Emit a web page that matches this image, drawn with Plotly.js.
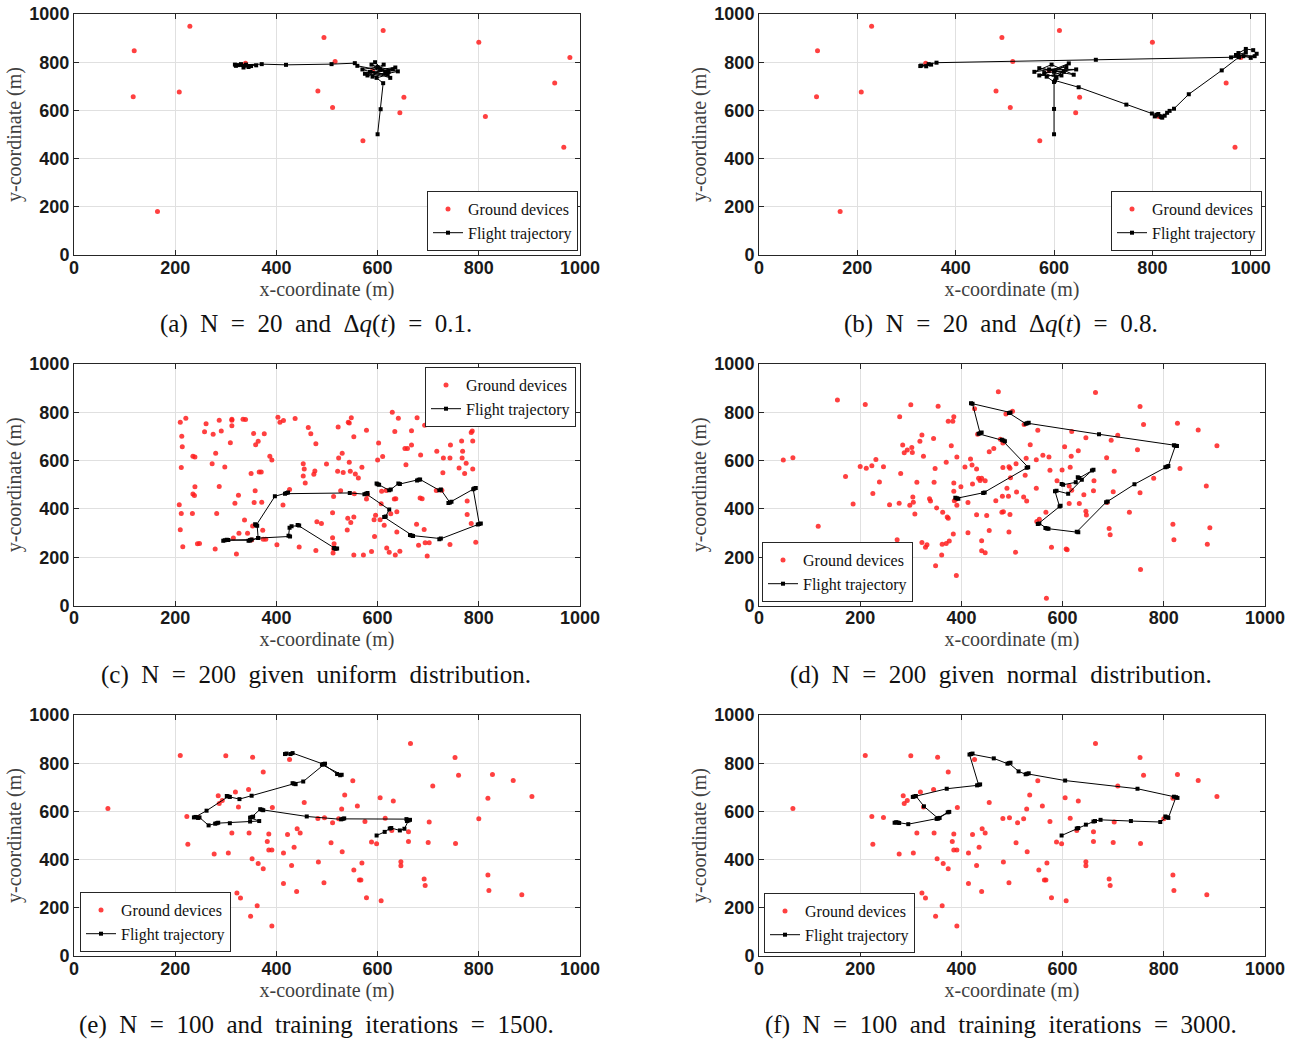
<!DOCTYPE html>
<html><head><meta charset="utf-8">
<script src="https://cdn.plot.ly/plotly-3.0.1.min.js"></script>
<style>body{margin:0;padding:0;background:#fff}#chart{width:1296px;height:1042px}</style>
</head><body><div id="chart"></div>
<script>
// ---------------- DATA ----------------
const tickVals = [0, 200, 400, 600, 800, 1000];
const tickText = ['0', '200', '400', '600', '800', '1000'];
const seriesNames = ['Ground devices', 'Flight trajectory'];
const xTitle = 'x-coordinate (m)';
const yTitle = 'y-coordinate (m)';
const captions = [
  '(a) N = 20 and Δ<i>q</i>(<i>t</i>) = 0.1.',
  '(b) N = 20 and Δ<i>q</i>(<i>t</i>) = 0.8.',
  '(c) N = 200 given uniform distribution.',
  '(d) N = 200 given normal distribution.',
  '(e) N = 100 and training iterations = 1500.',
  '(f) N = 100 and training iterations = 3000.'
];

// N = 20 ground devices (panels a, b)
const dev20X = [119,229,494,611,800,980,117,208,339,516,482,511,652,644,813,950,571,968,165,590];
const dev20Y = [848,949,902,932,883,819,657,676,796,803,681,612,655,590,575,714,474,447,181,765];

// N = 200 uniform ground devices (panel c)
const devUniX = [210,221,261,287,312,312,334,339,403,414,407,437,548,542,544,629,641,678,783,693,667,634,522,578,463,468,355,376,312,291,275,258,213,214,235,239,280,309,359,364,478,553,602,654,667,659,717,744,766,787,785,788,730,743,768,767,775,761,788,772,729,685,656,610,600,530,523,499,453,455,453,476,474,457,521,532,546,556,562,569,544,387,391,212,273,298,350,366,370,
  239,287,235,238,358,325,318,356,371,426,413,208,212,234,282,337,353,326,343,373,374,379,401,351,315,279,244,248,215,321,210,445,478,512,513,514,511,489,480,511,513,527,541,553,547,540,553,572,588,594,596,593,605,613,618,623,635,644,608,617,633,636,638,638,684,688,716,727,677,692,694,702,681,698,743,777,777,785,794,578,580,554,607,626];
const devUniY = [759,775,753,767,771,767,771,770,779,766,759,774,777,759,756,800,775,777,775,746,724,721,739,726,737,711,712,711,744,723,709,719,701,657,618,615,630,674,666,680,670,699,673,650,665,650,639,665,681,723,716,681,611,611,639,611,589,569,565,547,550,623,583,617,602,630,611,586,587,565,536,557,543,507,556,551,556,545,528,572,593,618,603,571,587,573,547,553,553,
  492,493,462,455,475,457,423,426,428,480,416,417,381,381,381,354,329,299,299,312,274,274,252,271,279,234,256,257,243,213,314,242,228,217,235,256,281,340,347,384,451,475,361,366,344,313,209,209,224,286,374,355,355,332,238,221,209,225,473,476,441,442,388,304,445,442,476,477,336,315,260,260,249,205,253,433,377,340,262,441,460,463,421,380];

// N = 200 normal ground devices (panel d)
const devNormX = [473,665,155,210,300,354,753,426,278,374,383,385,501,488,524,760,827,868,905,551,618,646,709,696,432,482,477,322,318,345,284,302,293,287,303,325,380,391,464,455,536,561,573,548,528,604,631,617,748,687,48,67,231,200,212,223,246,280,370,418,421,407,430,348,482,494,496,508,526,575,599,615,702,832,780,171,238,312,346,385,399,422,434,440,437,447,497,490,509,481,468,493,523,529,548,589,613,618,642,661,662,700,753,884,225,277,258,186,298,305,304,337,339,351,389,391,386,413,385,308,363,374,372,430,450,480,483,496,567,613,633,646,647,732,688,117,273,322,332,329,362,370,376,384,413,455,440,440,447,494,507,549,554,578,607,609,692,694,818,820,891,886,361,349,390,754,568];
const devNormY = [885,882,851,832,831,825,824,815,782,763,763,782,804,793,749,750,755,727,662,726,721,695,705,684,709,673,688,706,680,691,665,654,644,633,634,618,662,615,650,637,666,622,615,604,610,657,641,618,645,612,603,612,605,576,568,579,575,547,593,607,582,574,565,567,571,575,568,587,539,560,561,572,556,567,527,534,511,510,510,507,492,503,527,527,518,517,529,485,470,452,434,452,449,433,485,517,495,477,459,475,517,471,467,495,464,423,417,420,415,428,449,442,433,404,440,415,434,427,473,379,386,361,366,376,373,386,388,377,386,422,422,390,375,386,426,328,272,261,252,241,254,257,267,296,301,311,268,227,218,304,221,348,357,241,234,231,319,293,336,272,322,254,209,165,124,149,30];

// N = 100 ground devices (panels e, f)
const dev100X = [665,210,300,353,753,426,374,760,827,868,905,551,709,605,631,818,535,560,529,392,455,285,293,287,319,345,325,67,223,246,482,495,523,511,575,615,702,800,312,346,385,422,441,447,508,588,598,661,661,700,754,225,277,305,352,385,391,414,435,530,364,374,430,483,569,646,646,553,692,694,818,414,494,564,567,440,820,885,322,329,362,349,391,578,607,382,628];
const dev100Y = [882,832,831,825,824,815,763,750,753,728,662,727,705,657,643,655,668,622,610,616,637,665,645,633,681,691,618,612,579,575,571,574,569,553,558,572,556,569,510,510,506,504,528,510,470,473,466,516,475,471,467,464,423,427,404,440,440,427,451,433,384,362,376,390,386,391,375,357,319,293,336,301,304,315,315,268,272,254,261,241,209,165,124,242,229,475,521];

// Flight trajectories
const trajAX = [600,606,611,598,620,585,630,575,612,590,640,600,570,625,595,615,580,635,605,588,622,560,555,509,419,371,340,320,345,330,360,318,350,335,325];
const trajAY = [501,605,713,735,748,760,770,752,790,740,762,780,770,735,800,755,745,778,770,790,760,785,796,792,789,792,790,785,780,792,787,790,784,778,788];

const trajBX = [600,600,600,585,620,570,640,595,560,625,605,580,645,590,615,570,630,600,602,650,747,799,805,820,812,825,808,818,830,835,844,874,941,976,960,975,990,1005,1012,1000,985,1008,970,990,976,685,361,345,330,340,350,328];
const trajBY = [501,606,718,740,760,775,748,790,760,780,735,755,770,770,745,745,795,760,724,696,624,587,575,570,585,578,582,572,590,598,607,667,766,821,820,838,855,850,835,818,825,825,830,840,821,810,798,792,786,783,790,784];

const trajCX = [600,603,598,623,626,641,644,681,678,684,722,725,743,746,740,791,794,789,801,804,798,722,725,667,664,670,613,616,623,577,580,574,545,420,417,423,397,360,358,362,364,348,345,351,298,302,295,305,348,364,427,424,426,430,445,442,517,514,520];
const trajCY = [502,500,505,477,480,505,503,521,518,522,477,480,426,430,424,484,487,481,337,340,335,274,277,290,292,288,366,369,397,463,466,461,466,466,463,468,452,332,336,330,279,270,268,273,270,272,268,271,270,279,286,289,322,328,331,333,235,238,236];

const trajDX = [598,601,626,630,633,661,658,638,611,588,585,594,596,551,554,569,566,572,631,628,686,689,742,806,803,809,823,826,820,672,530,533,527,494,497,419,422,437,440,434,483,486,480,532,529,443,446,391,394,388];
const trajDY = [503,500,510,531,528,562,559,521,463,475,473,410,413,337,340,319,321,318,303,305,428,431,502,575,572,578,662,660,664,709,755,757,753,797,799,837,835,713,716,711,683,680,686,572,570,466,468,444,442,446];

const trajEX = [598,614,624,627,644,653,661,664,658,657,531,534,528,460,371,374,368,351,354,348,366,348,308,282,285,279,266,248,245,237,240,262,305,302,308,327,351,435,438,432,453,493,496,490,529,526,520,493,432,428,420,417];
const trajEY = [500,515,529,531,521,528,562,565,560,568,569,571,567,579,607,605,609,576,578,574,560,558,551,551,553,549,542,575,573,575,577,603,662,664,660,651,665,715,713,717,724,796,798,794,752,750,755,796,842,838,840,838];

const trajFX = [598,628,631,646,661,664,675,735,793,806,803,809,824,827,820,748,605,530,533,527,513,494,497,491,464,419,422,416,434,437,431,371,307,304,310,326,354,357,351,373,376,354,295,274,277,271,268];
const trajFY = [500,529,531,545,558,560,565,560,556,576,579,573,659,656,661,694,728,756,758,754,766,800,802,798,820,838,840,836,710,712,708,694,662,660,664,621,571,573,569,596,598,571,547,554,552,555,553];

// ---------------- FIGURE ----------------
const W = 1296, H = 1042;
const panels = [
  {dx: dev20X, dy: dev20Y, tx: trajAX, ty: trajAY, px: [74, 580], py: [14, 255], xmax: 1000, leg: {x: 578, y: 251, xa: 'right', ya: 'bottom'}},
  {dx: dev20X, dy: dev20Y, tx: trajBX, ty: trajBY, px: [759, 1265], py: [14, 255], xmax: 1029, leg: {x: 1262, y: 251, xa: 'right', ya: 'bottom'}},
  {dx: devUniX, dy: devUniY, tx: trajCX, ty: trajCY, px: [74, 580], py: [364, 605.5], xmax: 1000, leg: {x: 576, y: 367, xa: 'right', ya: 'top'}},
  {dx: devNormX, dy: devNormY, tx: trajDX, ty: trajDY, px: [759, 1265], py: [364, 605.5], xmax: 1000, leg: {x: 762, y: 602, xa: 'left', ya: 'bottom'}},
  {dx: dev100X, dy: dev100Y, tx: trajEX, ty: trajEY, px: [74, 580], py: [715, 956], xmax: 1000, leg: {x: 80, y: 952, xa: 'left', ya: 'bottom'}},
  {dx: dev100X, dy: dev100Y, tx: trajFX, ty: trajFY, px: [759, 1265], py: [715, 956], xmax: 1000, leg: {x: 764, y: 953, xa: 'left', ya: 'bottom'}}
];

const axisColor = '#262626';
const tickFont = {family: 'Liberation Sans, Arial, sans-serif', size: 18, color: '#1a1a1a', weight: 'bold'};
const titleFont = {family: 'Liberation Serif, Times New Roman, serif', size: 20, color: '#404040'};
const legendFont = {family: 'Liberation Serif, Times New Roman, serif', size: 16, color: '#111'};
const captionFont = {family: 'Liberation Serif, Times New Roman, serif', size: 25, color: '#111'};

const data = [];
const layout = {
  width: W, height: H,
  margin: {l: 0, r: 0, t: 0, b: 0},
  paper_bgcolor: '#fff', plot_bgcolor: '#fff',
  hovermode: false,
  showlegend: true,
  annotations: []
};

panels.forEach((p, i) => {
  const n = i + 1;
  const xa = 'xaxis' + (n === 1 ? '' : n), ya = 'yaxis' + (n === 1 ? '' : n);
  const xr = 'x' + (n === 1 ? '' : n), yr = 'y' + (n === 1 ? '' : n);
  const lg = 'legend' + (n === 1 ? '' : n);
  const common = {
    showgrid: true, gridcolor: '#e0e0e0', gridwidth: 1,
    showline: true, linecolor: axisColor, linewidth: 1, mirror: 'ticks',
    ticks: 'inside', ticklen: 5, tickcolor: axisColor, tickwidth: 1,
    tickvals: tickVals, ticktext: tickText, tickfont: tickFont,
    zeroline: false, fixedrange: true, automargin: false
  };
  layout[xa] = Object.assign({}, common, {
    domain: [p.px[0] / W, p.px[1] / W], range: [0, p.xmax], anchor: yr,
    ticklabelstandoff: -4,
    title: {text: xTitle, font: titleFont, standoff: 0}
  });
  layout[ya] = Object.assign({}, common, {
    domain: [1 - p.py[1] / H, 1 - p.py[0] / H], range: [0, 1000], anchor: xr,
    title: {text: yTitle, font: titleFont, standoff: 2}
  });
  layout[lg] = {
    x: p.leg.x / W, y: 1 - p.leg.y / H, xref: 'paper', yref: 'paper',
    xanchor: p.leg.xa, yanchor: p.leg.ya,
    bgcolor: '#fff', bordercolor: axisColor, borderwidth: 1,
    font: legendFont, itemwidth: 30, tracegroupgap: 0, traceorder: 'normal'
  };
  data.push({
    type: 'scatter', mode: 'markers', name: seriesNames[0],
    x: p.dx, y: p.dy, xaxis: xr, yaxis: yr, legend: lg,
    marker: {color: 'rgba(255,30,30,0.85)', size: 5, symbol: 'circle', line: {width: 0}},
    cliponaxis: true
  });
  data.push({
    type: 'scatter', mode: 'lines+markers', name: seriesNames[1],
    x: p.tx, y: p.ty, xaxis: xr, yaxis: yr, legend: lg,
    line: {color: '#000', width: 1},
    marker: {color: '#000', size: 4, symbol: 'square'},
    cliponaxis: true
  });
  // caption is centred on the whole sub-figure (slightly left of the plot centre)
  layout.annotations.push({
    xref: 'paper', yref: 'paper',
    x: ((p.px[0] + p.px[1]) / 2 - 11) / W, y: 1 - (p.py[1] + 69) / H,
    xanchor: 'center', yanchor: 'middle', showarrow: false,
    text: captions[i].split(' ').join('\u00a0\u00a0'),
    font: captionFont
  });
});

Plotly.newPlot('chart', data, layout, {staticPlot: true, displayModeBar: false});
</script>
</body></html>
